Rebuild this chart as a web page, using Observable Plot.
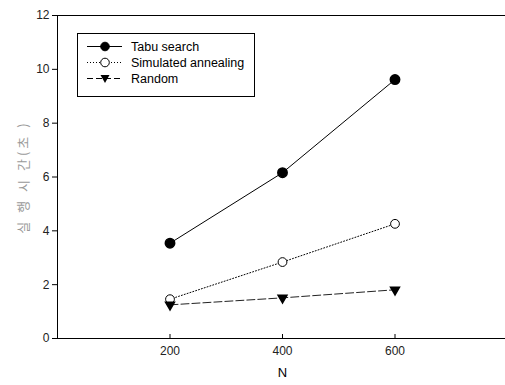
<!DOCTYPE html>
<html>
<head>
<meta charset="utf-8">
<script src="https://cdn.jsdelivr.net/npm/d3@7"></script>
<script src="https://cdn.jsdelivr.net/npm/@observablehq/plot@0.6"></script>
<style>
  html, body { margin: 0; padding: 0; background: #fff; }
  #wrap { position: relative; width: 505px; height: 385px; overflow: hidden; font-family: "Liberation Sans", Arial, sans-serif; }
  #legend { position: absolute; left: 77px; top: 33px; width: 176px; height: 62px; border: 1px solid #000; background: #fff; }
</style>
</head>
<body>
<div id="wrap"></div>
<script>
const N = [200, 400, 600];
const tabu = [3.54, 6.16, 9.62];
const annealing = [1.46, 2.84, 4.26];
const random = [1.25, 1.51, 1.81];
const seriesNames = ["Tabu search", "Simulated annealing", "Random"];
const yTicks = [0, 2, 4, 6, 8, 10, 12];
const xTicks = [200, 400, 600];
const yLabel = "실 행 시 간(초 )";
const xLabel = "N";

const rows = (vals, name) => N.map((n, i) => ({n, v: vals[i], name}));
const dTabu = rows(tabu, seriesNames[0]);
const dSA = rows(annealing, seriesNames[1]);
const dRand = rows(random, seriesNames[2]);

const chart = Plot.plot({
  width: 505,
  height: 385,
  marginLeft: 57,
  marginTop: 15,
  marginBottom: 47,
  marginRight: -2,
  style: {fontFamily: '"Liberation Sans", Arial, sans-serif', fontSize: "12px", color: "#000", background: "#fff"},
  x: {domain: [0, 800]},
  y: {domain: [0, 12]},
  marks: [
    Plot.frame({stroke: "#000", strokeWidth: 1}),
    Plot.axisY({ticks: yTicks, tickSize: 5, tickPadding: 3, label: null, fontSize: 12, stroke: "#000", fill: "#222"}),
    Plot.axisY({ticks: [], label: yLabel, labelArrow: "none", labelAnchor: "center", labelOffset: 39, fill: "#999", fontSize: 13, fontFamily: '"Noto Sans CJK KR", sans-serif'}),
    Plot.axisX({ticks: xTicks, tickSize: -4, text: null, label: null, stroke: "#000"}),
    Plot.axisX({ticks: xTicks, tickSize: 0, tickPadding: 8, label: null, fill: "#222", fontSize: 12}),
    Plot.axisX({ticks: [], label: xLabel, labelArrow: "none", labelAnchor: "center", labelOffset: 38, fontSize: 13, fill: "#000"}),
    Plot.line(dTabu, {x: "n", y: "v", stroke: "#000", strokeWidth: 1}),
    Plot.line(dSA, {x: "n", y: "v", stroke: "#000", strokeWidth: 1, strokeDasharray: "1,2"}),
    Plot.line(dRand, {x: "n", y: "v", stroke: "#222", strokeWidth: 1, strokeDasharray: "8,3"}),
    Plot.dot(dTabu, {x: "n", y: "v", r: 4.7, fill: "#000", stroke: "#000"}),
    Plot.dot(dSA, {x: "n", y: "v", r: 4.4, fill: "#fff", stroke: "#000", strokeWidth: 1}),
    Plot.dot(dRand, {x: "n", y: "v", symbol: "triangle", r: 3.3, rotate: 180, fill: "#000", stroke: "#000"})
  ]
});
const wrap = document.getElementById("wrap");
wrap.appendChild(chart);
d3.select(chart).selectAll("text").filter(function() { return this.textContent === yLabel; })
  .style("letter-spacing", "3px");

// legend
const styles = [
  {dash: null, marker: "filled"},
  {dash: "1,2", marker: "open"},
  {dash: "6,3", marker: "tri"}
];
const ns = "http://www.w3.org/2000/svg";
const leg = document.createElement("div");
leg.id = "legend";
const svg = document.createElementNS(ns, "svg");
svg.setAttribute("width", 176);
svg.setAttribute("height", 62);
seriesNames.forEach((name, i) => {
  const y = 12.5 + i * 16;
  const ln = document.createElementNS(ns, "line");
  ln.setAttribute("x1", 9); ln.setAttribute("x2", 44);
  ln.setAttribute("y1", y); ln.setAttribute("y2", y);
  ln.setAttribute("stroke", "#000");
  if (styles[i].dash) ln.setAttribute("stroke-dasharray", styles[i].dash);
  svg.appendChild(ln);
  let m;
  if (styles[i].marker === "tri") {
    m = document.createElementNS(ns, "path");
    m.setAttribute("d", `M${27 - 4.5},${y - 3.5} L${27 + 4.5},${y - 3.5} L27,${y + 4.5} Z`);
    m.setAttribute("fill", "#000");
  } else {
    m = document.createElementNS(ns, "circle");
    m.setAttribute("cx", 27); m.setAttribute("cy", y); m.setAttribute("r", 4.3);
    m.setAttribute("fill", styles[i].marker === "filled" ? "#000" : "#fff");
    m.setAttribute("stroke", "#000");
  }
  svg.appendChild(m);
  const t = document.createElementNS(ns, "text");
  t.setAttribute("x", 53); t.setAttribute("y", y);
  t.setAttribute("dy", "0.35em");
  t.setAttribute("font-size", "12.5");
  t.setAttribute("font-family", '"Liberation Sans", Arial, sans-serif');
  t.textContent = name;
  svg.appendChild(t);
});
leg.appendChild(svg);
wrap.appendChild(leg);
</script>
</body>
</html>
